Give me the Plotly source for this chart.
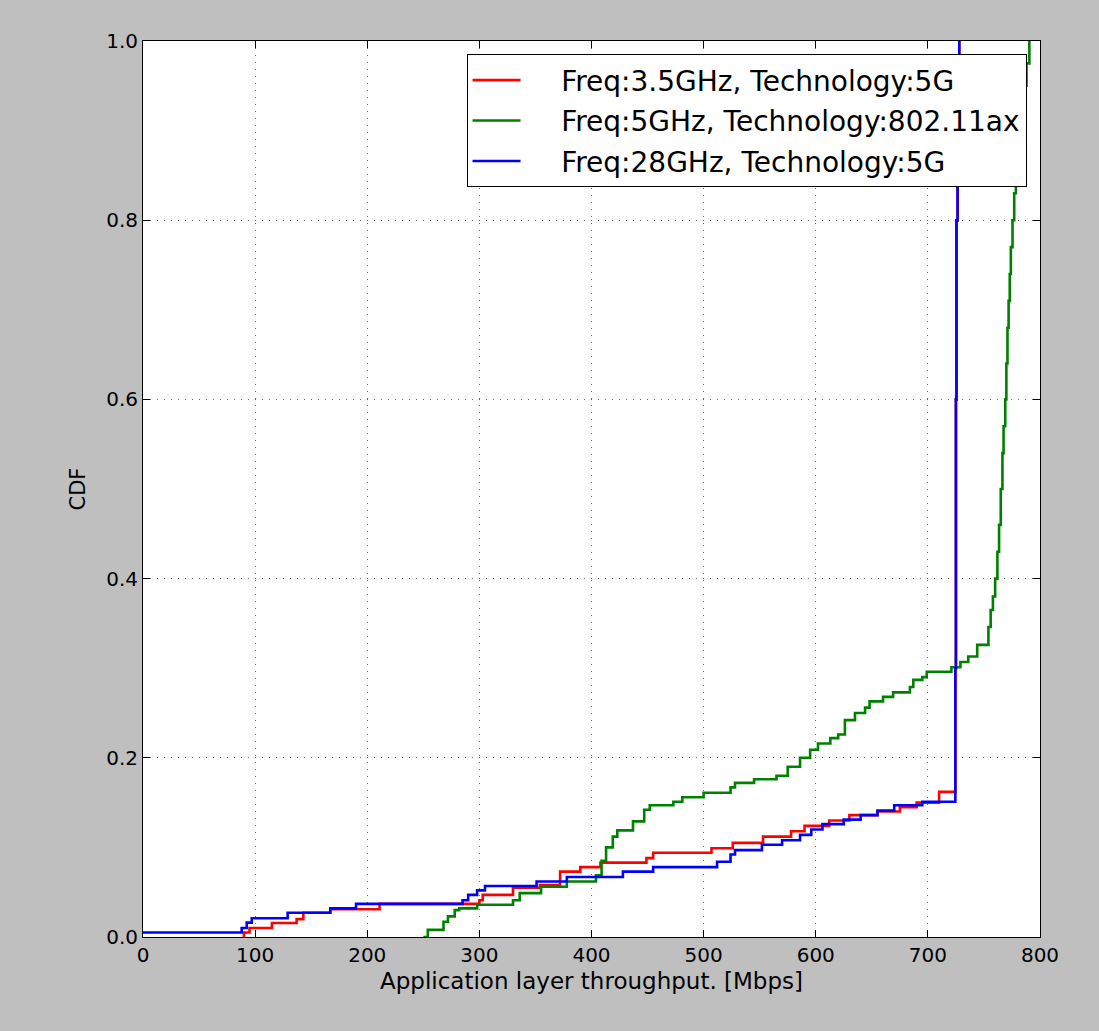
import plotly.graph_objects as go

# Series data (step CDFs): x = throughput [Mbps], y = CDF
red_x = [89, 90, 95, 115, 137, 143, 167, 211, 300, 303, 330, 354, 372, 390, 408, 449, 455, 507, 526, 553, 578, 590, 612, 630, 655, 675, 690, 710, 724.5, 725, 725.5, 726.5, 728]
red_y = [0.0, 0.005, 0.010, 0.0156, 0.020, 0.027, 0.031, 0.037, 0.041, 0.047, 0.055, 0.058, 0.073, 0.078, 0.083, 0.088, 0.094, 0.099, 0.105, 0.112, 0.118, 0.124, 0.130, 0.136, 0.140, 0.145, 0.150, 0.162, 0.30, 0.60, 0.80, 0.95, 1.0]

green_x = [250, 254, 268, 272, 278, 282, 298, 330, 336, 355, 378, 404, 409, 413, 419, 423, 437, 447, 452, 473, 481, 500, 524, 528, 545, 565, 575, 586, 595, 602, 613, 620, 626, 635, 644, 648, 660, 669, 684, 687, 695, 699, 721, 729, 736, 744, 754, 756, 758, 760, 762, 763.5, 765, 766.5, 767.5, 769, 770, 771, 772, 773, 774, 775.5, 777, 778.5, 780, 782, 784, 786, 788, 790.5]
green_y = [0.0, 0.008, 0.017, 0.023, 0.030, 0.032, 0.036, 0.041, 0.049, 0.056, 0.062, 0.069, 0.085, 0.100, 0.112, 0.119, 0.129, 0.142, 0.147, 0.151, 0.156, 0.161, 0.167, 0.172, 0.176, 0.180, 0.190, 0.200, 0.209, 0.216, 0.222, 0.226, 0.242, 0.250, 0.256, 0.263, 0.268, 0.273, 0.279, 0.287, 0.290, 0.296, 0.301, 0.307, 0.313, 0.326, 0.346, 0.365, 0.380, 0.400, 0.430, 0.460, 0.500, 0.540, 0.570, 0.600, 0.640, 0.680, 0.710, 0.740, 0.770, 0.800, 0.830, 0.860, 0.880, 0.900, 0.925, 0.950, 0.975, 1.0]

blue_x = [0, 88, 92.5, 97, 129, 167, 190, 285, 290, 298, 305, 351, 378, 428, 455, 512, 524, 528, 552, 570, 586, 596, 606, 625, 640, 655, 670, 695, 724.5, 725, 725.5, 726.5, 728]
blue_y = [0.005, 0.010, 0.016, 0.021, 0.027, 0.032, 0.037, 0.041, 0.047, 0.052, 0.057, 0.062, 0.067, 0.073, 0.078, 0.084, 0.092, 0.097, 0.103, 0.108, 0.114, 0.120, 0.126, 0.131, 0.136, 0.141, 0.147, 0.151, 0.30, 0.60, 0.80, 0.95, 1.0]

series = [
    ("Freq:3.5GHz, Technology:5G", red_x, red_y, "#ff0000"),
    ("Freq:5GHz, Technology:802.11ax", green_x, green_y, "#008000"),
    ("Freq:28GHz, Technology:5G", blue_x, blue_y, "#0000ff"),
]

x_ticks = [0, 100, 200, 300, 400, 500, 600, 700, 800]
y_ticks = [0.0, 0.2, 0.4, 0.6, 0.8, 1.0]

PAD = "\u00a0" * 4  # gap between legend line and label, as in the original

fig = go.Figure()
for i, (name, xs, ys, col) in enumerate(series):
    fig.add_trace(go.Scatter(
        x=xs, y=ys, mode="lines", name=PAD + name, legendgroup=f"g{i}",
        line=dict(color=col, width=2.6, shape="hv"),
        hovertemplate=name + "<br>%{x} Mbps, CDF %{y}<extra></extra>",
    ))

axis_common = dict(
    showline=True, linecolor="black", linewidth=1, mirror="allticks",
    ticks="inside", ticklen=7, tickcolor="black",
    showgrid=True, gridcolor="#666666", griddash="1px,6px", gridwidth=1.3,
    zeroline=False,
    tickfont=dict(family="DejaVu Sans", size=20, color="black"),
)

fig.update_layout(
    width=1099, height=1031,
    margin=dict(l=143, r=59, t=41, b=94),
    paper_bgcolor="#bfbfbf", plot_bgcolor="white",
    font=dict(family="DejaVu Sans", color="black"),
    xaxis=dict(range=[0, 800], tickvals=x_ticks, ticktext=[str(v) for v in x_ticks],
               title=dict(text="Application layer throughput. [Mbps]",
                          font=dict(size=23), standoff=6),
               **axis_common),
    yaxis=dict(range=[0, 1], tickvals=y_ticks, ticktext=[f"{v:.1f}" for v in y_ticks],
               title=dict(text="CDF", font=dict(size=21), standoff=14),
               **axis_common),
    legend=dict(x=0.985, y=0.985, xanchor="right", yanchor="top",
                bgcolor="white", bordercolor="black", borderwidth=1,
                font=dict(family="DejaVu Sans", size=28), tracegroupgap=1,
                itemwidth=48),
    showlegend=True,
)

fig.write_html("out.html")
